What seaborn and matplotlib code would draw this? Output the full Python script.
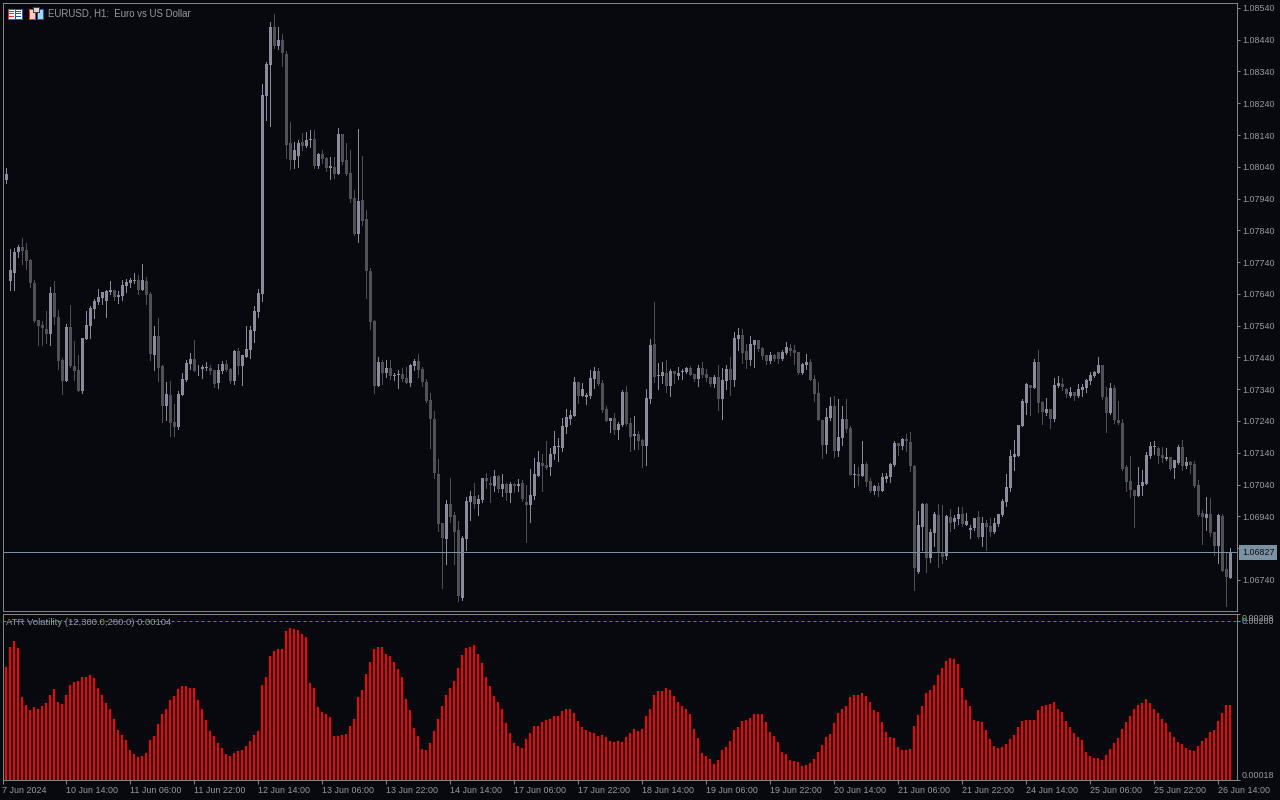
import numpy as np
import seaborn as sns
import matplotlib.pyplot as plt
from matplotlib.patches import Rectangle
from matplotlib.ticker import FormatStrFormatter

# prices are kept as points above 1.06000, atr as 0.00001 units
base_price = 1.06

opens = [2055,1999,1681,1707,1773,1788,1779,1747,1675,1557,
1542,1529,1514,1643,1568,1432,1366,1536,1414,1401,
1335,1499,1539,1593,1615,1628,1618,1646,1653,1631,
1634,1665,1675,1680,1684,1653,1681,1640,1448,1508,
1414,1288,1322,1237,1222,1322,1370,1420,1436,1399,
1404,1407,1407,1401,1360,1398,1420,1404,1366,1461,
1414,1442,1464,1524,1584,1640,2263,2360,2480,2420,
2439,2395,2115,2061,2074,2118,2106,2125,2128,2043,
2080,2068,2036,2039,2017,2143,2061,2021,1942,1829,
1936,1876,1712,1555,1350,1426,1391,1407,1381,1384,
1388,1375,1360,1413,1429,1404,1363,1306,1246,1073,
919,869,979,944,897,683,869,985,1004,979,
991,1061,1045,1036,1067,1026,1042,1013,1042,1036,
1045,985,976,1004,1067,1108,1102,1095,1136,1158,
1155,1221,1246,1256,1363,1319,1316,1319,1372,1397,
1360,1278,1240,1250,1212,1227,1331,1234,1193,1199,
1180,1162,1309,1483,1382,1382,1391,1350,1398,1382,
1394,1394,1407,1388,1372,1407,1388,1379,1357,1379,
1309,1366,1404,1369,1498,1511,1460,1432,1479,1495,
1470,1448,1429,1448,1457,1435,1454,1470,1464,1457,
1391,1416,1426,1372,1328,1243,1165,1250,1287,1146,
1187,1246,1218,1070,1073,1067,1105,1051,1020,1036,
1020,1058,1064,1102,1171,1162,1184,1174,1099,765,
907,979,809,888,944,828,815,938,922,932,
947,913,897,903,938,875,919,910,891,916,
944,985,1029,1127,1130,1224,1297,1353,1344,1426,
1300,1265,1278,1246,1350,1357,1341,1319,1331,1319,
1338,1344,1366,1382,1391,1416,1316,1265,1344,1243,
1234,1095,1051,1023,1004,1036,1042,1130,1158,1155,
1133,1121,1127,1092,1108,1158,1098,1111,1105,1039,
951,935,947,891,847,941,774,746]

highs = [2055,2036,1781,1784,1794,1816,1801,1749,1684,1557,
1555,1587,1662,1681,1589,1439,1546,1606,1492,1448,
1502,1587,1602,1624,1656,1646,1653,1681,1653,1650,
1684,1687,1691,1706,1700,1735,1694,1646,1539,1565,
1417,1363,1366,1294,1335,1392,1432,1454,1495,1417,
1417,1426,1417,1401,1420,1429,1432,1407,1464,1470,
1448,1539,1539,1602,1656,2301,2370,2496,2521,2480,
2458,2404,2181,2118,2124,2146,2150,2156,2156,2084,
2093,2071,2071,2071,2162,2143,2115,2093,1967,2159,
2074,1904,1722,1558,1441,1432,1432,1432,1391,1401,
1407,1410,1419,1435,1451,1410,1372,1328,1272,1121,
919,991,1061,954,925,878,1001,1020,1045,1007,
1061,1076,1064,1086,1070,1073,1045,1048,1045,1058,
1054,1039,1089,1124,1146,1136,1177,1155,1209,1187,
1250,1278,1275,1379,1363,1360,1328,1401,1410,1407,
1369,1287,1250,1265,1237,1338,1350,1250,1256,1209,
1184,1341,1498,1615,1423,1426,1432,1404,1398,1410,
1404,1410,1413,1388,1416,1426,1404,1379,1385,1416,
1407,1416,1442,1520,1533,1530,1483,1508,1495,1495,
1473,1448,1457,1451,1457,1464,1489,1483,1479,1457,
1423,1451,1435,1385,1363,1243,1281,1316,1319,1309,
1287,1309,1224,1105,1095,1177,1111,1061,1039,1045,
1077,1077,1108,1177,1171,1187,1199,1206,1102,957,
982,982,900,954,979,976,944,963,944,970,
969,951,913,935,957,938,929,935,935,947,
995,1073,1149,1180,1228,1309,1360,1353,1435,1464,
1303,1312,1278,1375,1382,1375,1344,1347,1331,1357,
1357,1372,1394,1397,1441,1416,1347,1360,1353,1303,
1246,1102,1130,1023,1095,1086,1143,1174,1177,1158,
1158,1155,1127,1117,1165,1180,1127,1114,1114,1054,
960,1001,998,891,947,947,828,840]

lows = [2002,1990,1651,1651,1755,1735,1719,1662,1552,1478,
1478,1486,1478,1546,1404,1325,1366,1410,1370,1335,
1329,1499,1502,1565,1609,1609,1568,1640,1621,1612,
1621,1646,1662,1675,1640,1653,1609,1432,1401,1366,
1237,1244,1193,1193,1215,1322,1366,1404,1398,1385,
1376,1401,1388,1348,1344,1392,1398,1360,1357,1388,
1354,1442,1439,1489,1568,1618,2187,2168,2414,2411,
2357,2068,2033,2036,2039,2093,2102,2102,2036,2036,
2052,2027,2002,2005,2017,2049,2014,1929,1825,1803,
1857,1627,1530,1329,1350,1357,1379,1372,1369,1344,
1366,1360,1350,1401,1379,1350,1300,1155,1061,894,
715,790,922,790,674,677,834,929,966,944,
985,1029,985,1020,1017,1004,991,985,1017,1020,
988,859,922,995,1067,1020,1089,1070,1121,1114,
1146,1202,1231,1256,1297,1319,1294,1312,1344,1353,
1268,1240,1205,1199,1183,1224,1227,1146,1152,1152,
1095,1102,1297,1363,1341,1360,1331,1319,1360,1372,
1372,1391,1385,1366,1350,1379,1366,1350,1347,1275,
1246,1341,1322,1350,1464,1423,1407,1416,1410,1460,
1435,1420,1423,1429,1423,1432,1451,1448,1420,1388,
1388,1404,1369,1303,1243,1124,1140,1243,1127,1130,
1165,1206,1070,1032,1039,1067,1036,1017,1010,1004,
1020,1048,1048,1099,1133,1152,1146,1083,708,762,
834,765,796,847,781,793,806,894,903,916,
910,913,872,897,872,847,834,878,888,910,
941,973,1020,1086,1130,1224,1262,1259,1344,1268,
1231,1259,1218,1240,1347,1338,1316,1316,1306,1316,
1319,1331,1357,1379,1391,1309,1205,1262,1234,1231,
1086,1020,1001,906,1004,1007,1042,1124,1136,1108,
1111,1117,1086,1061,1105,1086,1092,1076,1032,941,
853,897,878,818,793,768,658,746]

closes = [2002,2017,1716,1773,1787,1775,1745,1675,1555,1539,
1532,1514,1643,1566,1429,1366,1536,1414,1398,1335,
1502,1543,1596,1618,1631,1646,1650,1653,1631,1637,
1669,1678,1684,1683,1653,1684,1637,1451,1508,1407,
1288,1325,1234,1222,1325,1373,1423,1436,1398,1401,
1410,1410,1398,1357,1401,1420,1401,1366,1461,1414,
1448,1467,1527,1587,1643,2266,2364,2480,2420,2439,
2398,2109,2061,2093,2115,2106,2124,2128,2043,2080,
2065,2036,2043,2017,2143,2055,2017,1939,1829,1932,
1870,1712,1552,1350,1426,1391,1407,1382,1385,1388,
1372,1360,1416,1429,1401,1363,1303,1246,1076,916,
872,979,938,891,689,872,988,1004,979,995,
1061,1051,1039,1067,1026,1042,1013,1042,1036,1042,
995,976,1007,1073,1111,1098,1092,1136,1161,1161,
1224,1253,1259,1363,1319,1341,1322,1375,1397,1357,
1275,1240,1250,1212,1231,1331,1231,1190,1199,1177,
1162,1313,1479,1379,1385,1394,1350,1398,1388,1391,
1398,1407,1385,1372,1407,1385,1376,1357,1379,1309,
1369,1404,1369,1501,1511,1454,1432,1483,1495,1467,
1445,1429,1448,1435,1435,1457,1473,1460,1454,1391,
1420,1426,1369,1325,1243,1165,1253,1287,1146,1190,
1246,1215,1070,1073,1067,1105,1048,1020,1036,1020,
1064,1067,1105,1171,1162,1184,1177,1099,778,913,
979,809,891,948,825,812,941,919,935,948,
916,925,903,935,875,919,906,891,919,947,
988,1032,1130,1136,1228,1303,1357,1344,1426,1297,
1268,1278,1246,1353,1360,1347,1325,1331,1319,1341,
1347,1369,1385,1394,1416,1316,1265,1344,1243,1234,
1089,1048,1023,1004,1039,1048,1133,1161,1161,1130,
1124,1127,1089,1117,1158,1098,1111,1102,1036,944,
938,947,888,847,944,768,749,827]

atr = [0,148,171,178,169,113,104,98,102,100,103,106,115,122,107,105,116,127,130,132,
136,136,138,135,123,115,106,100,88,75,70,64,52,48,44,45,49,64,68,82,
94,100,110,114,122,126,126,123,124,110,100,87,74,68,60,55,48,45,49,51,
52,57,63,70,74,127,136,160,166,168,168,189,192,191,190,185,182,129,124,102,
96,94,90,68,68,70,71,80,88,113,121,140,153,168,170,170,163,160,153,145,
136,111,98,78,68,54,52,60,74,88,103,115,123,132,147,161,169,171,173,163,
152,136,126,114,107,100,83,72,60,57,55,65,72,80,80,84,87,88,91,91,
97,100,99,95,86,79,75,73,72,68,70,67,63,62,63,62,67,72,76,74,
76,91,99,116,120,120,123,121,114,108,103,99,94,76,66,49,45,42,36,41,
52,56,63,75,79,86,87,89,94,94,94,84,73,68,62,50,48,41,40,39,
34,35,37,42,50,58,67,71,83,95,100,103,113,115,115,118,114,107,98,96,
84,73,67,66,56,52,52,54,80,92,103,118,121,127,138,146,155,158,157,151,
123,110,103,87,86,84,75,65,57,55,56,59,65,70,79,86,87,87,87,98,
103,104,105,107,100,96,86,79,72,67,64,50,45,43,43,41,47,54,60,66,
76,84,91,99,104,106,111,106,99,95,88,83,73,67,62,59,55,52,51,57,
63,66,73,75,86,95,104,104]

price_ticks = [1.08540,1.08440,1.08340,1.08240,1.08140,1.08040,1.07940,1.07840,1.07740,1.07640,
               1.07540,1.07440,1.07340,1.07240,1.07140,1.07040,1.06940,1.06840,1.06740]
atr_ticks = [0.00018, 0.00200, 0.00208]
time_labels = ['7 Jun 2024','10 Jun 14:00','11 Jun 06:00','11 Jun 22:00','12 Jun 14:00',
               '13 Jun 06:00','13 Jun 22:00','14 Jun 14:00','17 Jun 06:00','17 Jun 22:00',
               '18 Jun 14:00','19 Jun 06:00','19 Jun 22:00','20 Jun 14:00','21 Jun 06:00',
               '21 Jun 22:00','24 Jun 14:00','25 Jun 06:00','25 Jun 22:00','26 Jun 14:00']
last_price = 1.06827
atr_level = 0.00200

bg = '#08090e'
grey = '#84848c'
text_col = '#9a9aa2'
up_col = '#8b8b9b'
down_col = '#505056'
line_col = '#7b92a5'

sns.set_theme(style='ticks', rc={'figure.facecolor': bg, 'axes.facecolor': bg, 'axes.edgecolor': grey,
                                 'axes.linewidth': 0.72, 'xtick.color': grey, 'ytick.color': grey,
                                 'text.color': text_col})
plt.rcParams['font.family'] = ['Liberation Sans', 'DejaVu Sans']

W, H = 1280, 800
fig = plt.figure(figsize=(W / 100, H / 100), dpi=100)
ax = fig.add_axes([2.5 / W, (H - 611) / H, 1234.2 / W, 608.5 / H])
ax2 = fig.add_axes([2.5 / W, (H - 780) / H, 1234.2 / W, 166.5 / H])

o = base_price + np.array(opens) / 1e5
h = base_price + np.array(highs) / 1e5
l = base_price + np.array(lows) / 1e5
c = base_price + np.array(closes) / 1e5
idx = np.arange(len(o))
up = c >= o
colors = [up_col if u else down_col for u in up]

ax.vlines(idx, l, h, colors=colors, linewidth=0.72, antialiased=False)
# thin bodies still need one pixel, so give them a small minimum height
body_h = np.maximum(np.abs(c - o), 0.00003)
ax.bar(idx, body_h, bottom=np.minimum(o, c), width=0.75, color=colors, linewidth=0, antialiased=False)
ax.axhline(last_price, color=line_col, linewidth=0.72, antialiased=False)
ax.set_xlim(0.04, 308.6)
ax.set_ylim(1.06642, 1.08557)
ax.set_yticks(price_ticks)
ax.yaxis.set_major_formatter(FormatStrFormatter('%.5f'))
ax.yaxis.tick_right()
ax.set_xticks([])
ax.tick_params(axis='y', length=2.2, width=0.72, pad=1.5, labelsize=6.4, labelcolor=text_col)

atr_vals = np.array(atr) / 1e5
sns.barplot(x=idx, y=atr_vals, ax=ax2, native_scale=True, color='#ff0000', saturation=1,
            width=0.5, errorbar=None, linewidth=0, antialiased=False)
ax2.axhline(atr_level, color='#e2501e', linewidth=0.72, linestyle=(0, (3, 3)))
ax2.set_xlim(0.04, 308.6)
ax2.set_ylim(0.00018, 0.00209)
ax2.set_yticks(atr_ticks)
ax2.yaxis.set_major_formatter(FormatStrFormatter('%.5f'))
ax2.yaxis.tick_right()
ax2.set_xticks(np.arange(0, 320, 16))
ax2.set_xticklabels(time_labels, ha='left')
ax2.tick_params(axis='y', length=2.2, width=0.72, pad=1.5, labelsize=6.4, labelcolor=text_col)
ax2.tick_params(axis='x', length=3, width=0.72, pad=1.5, labelsize=6.4, labelcolor=text_col)
ax2.set_xlabel('')
ax2.set_ylabel('')
for lab, va in zip(ax2.get_yticklabels(), ['bottom', 'center', 'top']):
    lab.set_va(va)

# price tag over the axis
ax.text(1.0043, last_price, '1.06827', transform=ax.get_yaxis_transform(), ha='left', va='center',
        fontsize=6.4, color='#0b0c10', zorder=5,
        bbox=dict(facecolor='#7b92a5', edgecolor='none', pad=2.1), clip_on=False)

fig.text(48 / W, 1 - 13.5 / H, 'EURUSD, H1:  Euro vs US Dollar', fontsize=6.9, color=text_col, va='center')
fig.text(6 / W, 1 - 622.5 / H, 'ATR Volatility (12,300.0,280.0) 0.00104', fontsize=6.8, color=text_col, va='center')


def box(x0, y0, x1, y1, face, edge='none'):
    fig.add_artist(Rectangle((x0 / W, 1 - y1 / H), (x1 - x0) / W, (y1 - y0) / H, facecolor=face,
                             edgecolor=edge, linewidth=0.72, transform=fig.transFigure, antialiased=False))


# the two toolbar icons
box(7.5, 8.5, 14.5, 18.5, '#ffffff', '#e03030')
box(14.5, 8.5, 21.5, 18.5, '#ffffff', '#1060b0')
for yy in (10.5, 13, 15.5):
    box(9, yy, 14, yy + 1, '#e03030')
    box(15.5, yy, 20.5, yy + 1, '#1060b0')
box(28.5, 8.5, 34.5, 18.5, '#ffd0c8', '#e03030')
box(36.5, 8.5, 42.5, 18.5, '#a0d8f8', '#1060b0')
box(32.5, 7.5, 38.5, 11.5, '#d8d8d8', '#404040')

fig.savefig('out.png', dpi=100, facecolor=bg)
